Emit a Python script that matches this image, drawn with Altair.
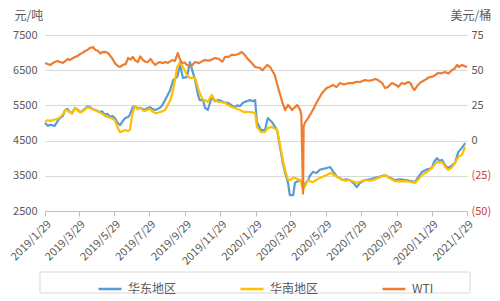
import altair as alt
import pandas as pd

# ---------------- data ----------------
cn_dates = [
    "2019-01-29", "2019-02-07", "2019-02-15", "2019-02-24", "2019-03-05", "2019-03-13",
    "2019-03-22", "2019-03-31", "2019-04-08", "2019-04-17", "2019-04-26", "2019-05-04",
    "2019-05-13", "2019-05-22", "2019-05-30", "2019-06-04", "2019-06-08", "2019-06-13",
    "2019-06-17", "2019-06-22", "2019-06-25", "2019-06-30", "2019-07-04", "2019-07-13",
    "2019-07-21", "2019-07-30", "2019-08-08", "2019-08-16", "2019-08-25", "2019-09-03",
    "2019-09-08", "2019-09-15", "2019-09-20", "2019-09-25", "2019-10-02", "2019-10-07",
    "2019-10-16", "2019-10-21", "2019-10-24", "2019-10-30", "2019-11-02", "2019-11-07",
    "2019-11-14", "2019-11-25", "2019-12-07", "2019-12-15", "2019-12-24", "2020-01-02",
    "2020-01-10", "2020-01-19", "2020-01-28", "2020-01-31", "2020-02-07", "2020-02-14",
    "2020-02-19", "2020-02-26", "2020-03-06", "2020-03-11", "2020-03-16", "2020-03-20",
    "2020-03-25", "2020-03-28", "2020-04-03", "2020-04-06", "2020-04-15", "2020-04-20",
    "2020-04-29", "2020-05-07", "2020-05-19", "2020-05-31", "2020-06-06", "2020-06-18",
    "2020-06-28", "2020-07-10", "2020-07-22", "2020-08-05", "2020-08-23", "2020-09-09",
    "2020-09-26", "2020-10-14", "2020-10-31", "2020-11-12", "2020-11-29", "2020-12-08",
    "2020-12-17", "2020-12-27", "2021-01-08", "2021-01-14", "2021-01-20", "2021-01-26",
    # in-between readings
    "2019-02-03", "2019-02-20", "2019-03-01", "2019-03-09", "2019-03-17", "2019-03-26",
    "2019-04-04", "2019-04-12", "2019-04-21", "2019-05-08", "2019-05-17", "2019-05-26",
    "2019-07-08", "2019-07-17", "2019-07-25", "2019-08-03", "2019-08-12", "2019-08-20",
    "2019-11-19", "2019-12-01", "2019-12-11", "2019-12-20", "2019-12-28", "2020-01-06",
    "2020-01-14", "2020-01-24", "2020-05-01", "2020-05-13", "2020-05-25", "2020-06-12",
    "2020-06-23", "2020-07-04", "2020-07-16", "2020-07-28", "2020-08-14", "2020-08-30",
    "2020-09-17", "2020-10-05", "2020-10-22", "2020-11-05", "2020-11-20", "2020-12-03",
    "2020-12-12", "2020-12-22", "2021-01-02",
]
east = [
    5000, 4950, 4920, 5140, 5370, 5310,
    5430, 5310, 5400, 5450, 5370, 5310,
    5230, 5170, 5140, 5000, 4940, 5060,
    5140, 5170, 5230, 5450, 5480, 5430,
    5370, 5450, 5370, 5430, 5650, 5940,
    6220, 6310, 6650, 6280, 6310, 6730,
    6220, 5800, 5650, 5650, 5430, 5370,
    5740, 5650, 5570, 5540, 5450, 5480,
    5600, 5650, 5650, 5030, 4800, 4800,
    5140, 5030, 4800, 4320, 3860, 3580,
    3300, 2950, 2950, 3300, 3380, 3200,
    3380, 3610, 3670, 3720, 3750, 3470,
    3380, 3380, 3180, 3380, 3440, 3520,
    3380, 3380, 3320, 3610, 3720, 4000,
    3950, 3720, 3860, 4180, 4290, 4430,
    4920, 5060, 5200, 5400, 5280, 5380,
    5350, 5470, 5400, 5330, 5260, 5200,
    5420, 5400, 5420, 5400, 5400, 5500,
    5620, 5620, 5580, 5480, 5500, 5560,
    5620, 5620, 3480, 3580, 3700, 3600,
    3430, 3400, 3300, 3300, 3400, 3470,
    3450, 3400, 3360, 3450, 3680, 3900,
    3930, 3800, 3780,
]
south = [
    5030, 5060, 5100, 5170, 5370, 5300,
    5420, 5300, 5380, 5430, 5360, 5300,
    5200, 5150, 5080, 4860, 4740, 4770,
    4800, 4770, 4800, 5300, 5480, 5430,
    5340, 5400, 5280, 5310, 5370, 5650,
    5940, 6590, 6730, 6590, 6360, 6280,
    6280, 6000, 5850, 5650, 5650, 5600,
    5800, 5600, 5570, 5480, 5430, 5370,
    5310, 5310, 5280, 4890, 4740, 4740,
    4860, 4890, 4800, 4400, 3950, 3650,
    3380, 3380, 3440, 3440, 3380, 3100,
    3380, 3320, 3440, 3520, 3580, 3470,
    3380, 3380, 3300, 3380, 3400, 3520,
    3350, 3350, 3300, 3520, 3720, 3890,
    3890, 3670, 3860, 4030, 4100, 4320,
    5080, 5120, 5250, 5360, 5270, 5360,
    5330, 5440, 5390, 5260, 5170, 5120,
    5390, 5360, 5370, 5330, 5290, 5330,
    5650, 5590, 5520, 5440, 5400, 5330,
    5320, 5300, 3350, 3380, 3480, 3530,
    3420, 3360, 3340, 3330, 3360, 3450,
    3430, 3340, 3330, 3380, 3600, 3800,
    3870, 3760, 3720,
]

wti_dates = [
    "2019-01-29", "2019-02-07", "2019-02-15", "2019-02-24", "2019-03-05", "2019-03-13",
    "2019-03-22", "2019-03-31", "2019-04-08", "2019-04-17", "2019-04-22", "2019-05-01",
    "2019-05-09", "2019-05-18", "2019-05-25", "2019-05-30", "2019-06-08", "2019-06-13",
    "2019-06-22", "2019-06-30", "2019-07-09", "2019-07-18", "2019-07-26", "2019-08-08",
    "2019-08-16", "2019-08-25", "2019-09-06", "2019-09-16", "2019-09-23", "2019-10-02",
    "2019-10-16", "2019-11-02", "2019-11-19", "2019-12-07", "2019-12-24", "2020-01-05",
    "2020-01-10", "2020-01-22", "2020-01-28", "2020-02-05", "2020-02-18", "2020-02-23",
    "2020-03-02", "2020-03-08", "2020-03-15", "2020-03-20", "2020-03-25", "2020-04-01",
    "2020-04-10", "2020-04-15", "2020-04-17", "2020-04-20", "2020-04-21", "2020-04-23",
    "2020-04-29", "2020-05-07", "2020-05-14", "2020-05-23", "2020-05-31", "2020-06-11",
    "2020-06-23", "2020-07-10", "2020-07-28", "2020-08-05", "2020-08-23", "2020-09-04",
    "2020-09-09", "2020-09-21", "2020-10-08", "2020-10-19", "2020-10-27", "2020-11-05",
    "2020-11-17", "2020-11-29", "2020-12-10", "2020-12-22", "2021-01-03", "2021-01-12",
    "2021-01-20", "2021-01-29",
    # in-between readings
    "2019-02-11", "2019-02-20", "2019-03-01", "2019-03-09", "2019-03-17", "2019-03-26",
    "2019-04-04", "2019-04-12", "2019-04-26", "2019-05-05", "2019-05-14", "2019-06-04",
    "2019-06-18", "2019-06-26", "2019-07-04", "2019-07-13", "2019-07-22", "2019-07-31",
    "2019-08-04", "2019-08-12", "2019-08-21", "2019-08-30", "2019-09-11", "2019-09-19",
    "2019-09-28", "2019-10-09", "2019-10-23", "2019-10-28", "2019-11-09", "2019-11-14",
    "2019-11-26", "2019-12-02", "2019-12-13", "2019-12-18", "2019-12-30", "2020-01-15",
    "2020-02-10", "2020-02-13", "2020-06-05", "2020-06-17", "2020-06-30", "2020-07-05",
    "2020-07-15", "2020-07-22", "2020-08-12", "2020-08-18", "2020-08-28", "2020-09-14",
    "2020-09-28", "2020-10-02", "2020-10-13", "2020-10-23", "2020-10-30", "2020-11-10",
    "2020-11-24", "2020-12-04", "2020-12-16", "2020-12-28", "2021-01-07", "2021-01-15",
    "2021-01-25",
]
wti = [
    55.1, 53.7, 55.8, 55.8, 56.5, 57.2,
    59.4, 61.5, 63.6, 65.8, 66.5, 63.6,
    62.9, 62.2, 58.7, 55.1, 52.3, 53.7,
    58.7, 59.4, 55.8, 57.2, 55.8, 53.7,
    55.8, 55.8, 57.2, 62.2, 55.1, 53.7,
    55.8, 57.2, 58.7, 59.4, 60.8, 62.9,
    60.8, 55.1, 52.3, 51.6, 53.7, 52.3,
    46.6, 37.4, 27.4, 21.7, 25.3, 21.7,
    25.3, 21.7, 18.0, -37.6, 10.0, 12.5,
    16.1, 21.7, 27.4, 33.8, 37.4, 39.5,
    40.9, 40.9, 41.6, 43.0, 43.8, 40.9,
    37.4, 40.9, 40.9, 41.6, 37.4, 39.5,
    43.0, 45.2, 48.0, 48.7, 50.1, 53.7,
    53.7, 52.3,
    54.9, 56.6, 55.2, 57.9, 58.2, 60.0,
    62.3, 64.2, 64.5, 61.9, 63.0, 53.0,
    54.5, 57.5, 57.0, 59.8, 56.0, 58.0,
    55.5, 55.0, 55.0, 55.2, 56.5, 58.5,
    55.5, 52.8, 55.0, 56.3, 56.8, 57.5,
    58.0, 56.0, 59.5, 60.9, 61.5, 58.2,
    50.0, 51.5, 38.3, 38.0, 39.8, 40.5,
    40.8, 41.8, 42.5, 42.9, 43.0, 38.0,
    39.5, 38.2, 40.2, 40.9, 36.0, 41.4,
    45.0, 46.3, 47.8, 47.6, 50.9, 52.3,
    52.9,
]

series_names = ["华东地区", "华南地区", "WTI"]
series_colors = ["#5B9BD5", "#FFC000", "#ED7D31"]
left_ticks = [2500, 3500, 4500, 5500, 6500, 7500]
right_ticks = [-50, -25, 0, 25, 50, 75]
tick_dates = [(2019, 1), (2019, 3), (2019, 5), (2019, 7), (2019, 9), (2019, 11),
              (2020, 1), (2020, 3), (2020, 5), (2020, 7), (2020, 9), (2020, 11), (2021, 1)]

# ---------------- tables ----------------
east_df = pd.DataFrame({"date": pd.to_datetime(cn_dates), "value": east,
                        "series": series_names[0]}).sort_values("date")
south_df = pd.DataFrame({"date": pd.to_datetime(cn_dates), "value": south,
                         "series": series_names[1]}).sort_values("date")
wti_df = pd.DataFrame({"date": pd.to_datetime(wti_dates), "value": wti,
                       "series": series_names[2]}).sort_values("date")

FONT = "Noto Sans CJK SC"
TXT = "#595959"

color = alt.Color(
    "series:N",
    scale=alt.Scale(domain=series_names, range=series_colors),
    legend=alt.Legend(
        title=None, orient="none", legendX=52, legendY=241, direction="horizontal",
        symbolType="stroke", symbolStrokeWidth=2.5, symbolSize=530,
        labelFontSize=12, labelFont=FONT, labelColor=TXT, labelOffset=5,
        columnPadding=58, padding=0,
    ),
)

x_enc = alt.X(
    "date:T",
    title=None,
    scale=alt.Scale(domain=[alt.DateTime(year=2019, month=1, date=29),
                            alt.DateTime(year=2021, month=1, date=29)], nice=False),
    axis=alt.Axis(
        values=[alt.DateTime(year=y, month=m, date=29) for y, m in tick_dates],
        format="%Y/%-m/%-d", labelAngle=-45, labelFontSize=11, labelFont=FONT,
        labelColor=TXT, grid=False, domainColor="#BFBFBF", tickColor="#BFBFBF",
        tickSize=5, labelPadding=2, labelOverlap=False, labelFlush=False,
    ),
)

left_axis = alt.Axis(
    values=left_ticks, format="d", grid=True, gridColor="#D9D9D9", domain=False, ticks=False,
    labelFontSize=11, labelFont=FONT, labelColor=TXT, labelPadding=8,
    title="元/吨", titleAngle=0, titleX=-31, titleY=-20, titleAlign="left",
    titleBaseline="middle", titleFontSize=12, titleFontWeight="normal",
    titleFont=FONT, titleColor=TXT,
)
left_scale = alt.Scale(domain=[2500, 7500], nice=False, zero=False)

east_line = alt.Chart(east_df).mark_line(strokeWidth=2.2, strokeJoin="round").encode(
    x=x_enc,
    y=alt.Y("value:Q", scale=left_scale, axis=left_axis),
    color=color,
)
south_line = alt.Chart(south_df).mark_line(strokeWidth=2.2, strokeJoin="round").encode(
    x=x_enc,
    y=alt.Y("value:Q", scale=left_scale, axis=left_axis),
    color=color,
)
cn_layer = alt.layer(east_line, south_line)

right_axis = alt.Axis(
    values=right_ticks, orient="right", grid=False, domain=False, ticks=False,
    labelFontSize=11, labelFont=FONT, labelPadding=4,
    labelExpr="datum.value < 0 ? '(' + format(-datum.value, 'd') + ')' : format(datum.value, 'd')",
    labelColor={"condition": {"test": "datum.value < 0", "value": "#C8403A"}, "value": TXT},
    title="美元/桶", titleAngle=0, titleX=-17, titleY=-20, titleAlign="left",
    titleBaseline="middle", titleFontSize=12, titleFontWeight="normal",
    titleFont=FONT, titleColor=TXT,
)
wti_line = alt.Chart(wti_df).mark_line(strokeWidth=2.2, strokeJoin="round").encode(
    x=x_enc,
    y=alt.Y("value:Q", scale=alt.Scale(domain=[-50, 75], nice=False, zero=False), axis=right_axis),
    color=color,
)

legend_box = alt.Chart(alt.Data(values=[{}])).mark_rect(
    fill=None, stroke="#D9D9D9", strokeWidth=1
).encode(
    x=alt.value(-5), x2=alt.value(425), y=alt.value(237), y2=alt.value(258)
)

chart = alt.layer(cn_layer, wti_line, legend_box).resolve_scale(y="independent").properties(
    width=422, height=176,
    autosize=alt.AutoSizeParams(type="none"),
    padding={"left": 45, "top": 35, "right": 33, "bottom": 90},
    background="white",
).configure_view(stroke=None)

chart.save("out.html", embed_options={"renderer": "svg", "actions": False})
